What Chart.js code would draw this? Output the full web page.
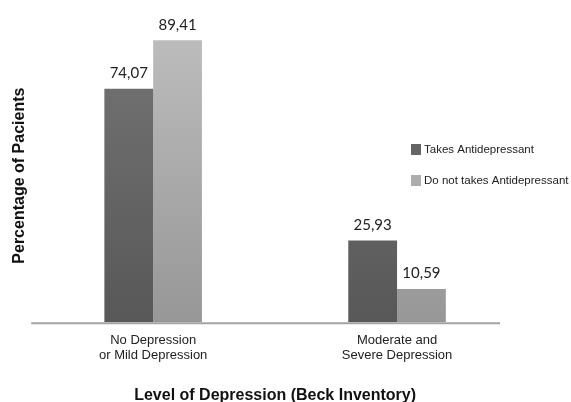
<!DOCTYPE html>
<html>
<head>
<meta charset="utf-8">
<script src="https://cdn.jsdelivr.net/npm/chart.js@4.4.0/dist/chart.umd.min.js"></script>
<style>
  html, body { margin: 0; padding: 0; background: #fff; }
  #wrap { width: 571px; height: 402px; }
</style>
</head>
<body>
<div id="wrap"><canvas id="depressionChart"></canvas></div>
<script>
const categories = [['No Depression', 'or Mild Depression'], ['Moderate and', 'Severe Depression']];
const seriesNames = ['Takes Antidepressant', 'Do not takes Antidepressant'];
const takesValues = [74.07, 25.93];
const notTakesValues = [89.41, 10.59];

const shades = [
  { top: '#747474', bottom: '#585858', legend: '#646464' },
  { top: '#bdbdbd', bottom: '#979797', legend: '#adadad' }
];

function barFill(index) {
  return (context) => {
    const { chart } = context;
    const area = chart.chartArea;
    if (!area) return shades[index].legend;
    const g = chart.ctx.createLinearGradient(0, area.top, 0, area.bottom);
    g.addColorStop(0, shades[index].top);
    g.addColorStop(1, shades[index].bottom);
    return g;
  };
}

// values printed above each bar, with comma decimals
const valueLabels = {
  id: 'valueLabels',
  afterDatasetsDraw(chart) {
    const ctx = chart.ctx;
    ctx.save();
    ctx.font = '15px Lato, "Open Sans", sans-serif';
    ctx.fillStyle = '#222';
    ctx.textAlign = 'center';
    ctx.textBaseline = 'bottom';
    chart.data.datasets.forEach((ds, i) => {
      chart.getDatasetMeta(i).data.forEach((bar, j) => {
        const txt = ds.data[j].toFixed(2).replace('.', ',');
        ctx.fillText(txt, bar.x, bar.y - 8);
      });
    });
    ctx.restore();
  }
};

// baseline under the bars
const baseLine = {
  id: 'baseLine',
  afterDatasetsDraw(chart) {
    const ctx = chart.ctx;
    const y = chart.scales.y.getPixelForValue(0);
    ctx.save();
    ctx.strokeStyle = '#a3a3a3';
    ctx.lineWidth = 2;
    ctx.beginPath();
    ctx.moveTo(chart.chartArea.left, y + 1);
    ctx.lineTo(chart.chartArea.right - 19, y + 1);
    ctx.stroke();
    ctx.restore();
  }
};

// legend drawn inside the plot, to the right
const sideLegend = {
  id: 'sideLegend',
  afterDraw(chart) {
    const ctx = chart.ctx;
    ctx.save();
    ctx.font = '11.5px "Liberation Sans", Arial, sans-serif';
    ctx.textBaseline = 'middle';
    ctx.textAlign = 'left';
    chart.data.datasets.forEach((ds, i) => {
      const y = 150 + i * 31;
      ctx.fillStyle = shades[i].legend;
      ctx.fillRect(411, y - 6, 10, 11);
      ctx.fillStyle = '#222';
      ctx.fillText(ds.label, 424, y);
    });
    ctx.restore();
  }
};

const ctx = document.getElementById('depressionChart').getContext('2d');

new Chart(ctx, {
  type: 'bar',
  data: {
    labels: categories,
    datasets: [
      { label: seriesNames[0], data: takesValues, backgroundColor: barFill(0) },
      { label: seriesNames[1], data: notTakesValues, backgroundColor: barFill(1) }
    ]
  },
  options: {
    responsive: true,
    maintainAspectRatio: false,
    animation: false,
    layout: { padding: { top: 29, right: 52, left: 0, bottom: 0 } },
    datasets: { bar: { barPercentage: 1, categoryPercentage: 0.4 } },
    plugins: {
      legend: { display: false },
      tooltip: { enabled: false }
    },
    scales: {
      x: {
        grid: { display: false, drawTicks: false },
        border: { display: false },
        ticks: {
          color: '#222',
          padding: 11,
          font: { family: '"Liberation Sans", Arial, sans-serif', size: 13, lineHeight: 1.15 },
          maxRotation: 0
        },
        title: {
          display: true,
          text: 'Level of Depression (Beck Inventory)',
          color: '#111',
          padding: { top: 15, bottom: 0 },
          font: { family: '"Liberation Sans", Arial, sans-serif', size: 16, weight: 'bold', lineHeight: 0.8 }
        }
      },
      y: {
        min: 0,
        max: 93,
        grid: { display: false, drawTicks: false },
        border: { display: false },
        ticks: { display: false },
        title: {
          display: true,
          text: 'Percentage of Pacients',
          color: '#111',
          padding: { top: 10, bottom: 2 },
          font: { family: '"Liberation Sans", Arial, sans-serif', size: 16, weight: 'bold', lineHeight: 1.2 }
        }
      }
    }
  },
  plugins: [valueLabels, baseLine, sideLegend]
});
</script>
</body>
</html>
